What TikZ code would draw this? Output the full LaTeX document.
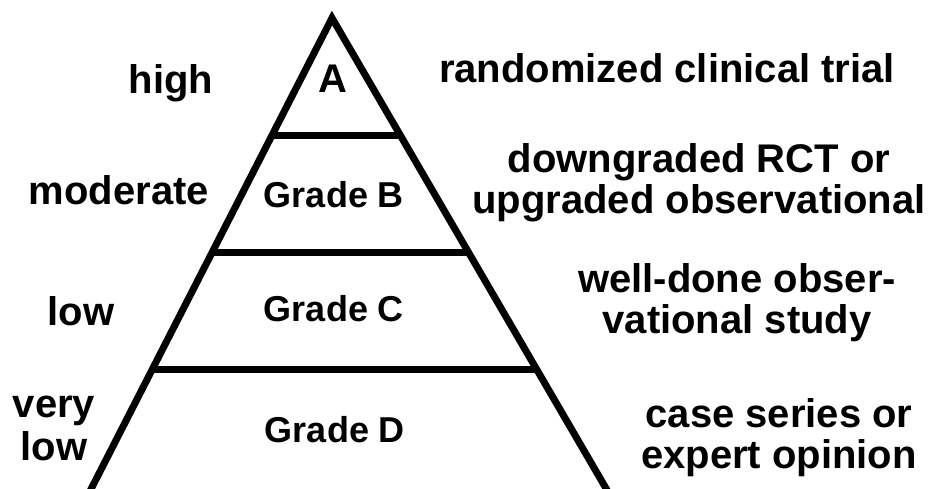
\documentclass[tikz,border=0pt]{standalone}
\usepackage{fontspec}
\setmainfont{Liberation Sans}
\usetikzlibrary{calc}
\begin{document}
\begin{tikzpicture}[x=1pt,y=-1pt,
  side/.style={font=\fontsize{40}{41}\selectfont\bfseries,align=center,anchor=base,inner sep=0pt},
  grade/.style={font=\fontsize{36}{38}\selectfont\bfseries,anchor=base,inner sep=0pt},
  edge/.style={line width=7pt}]
\useasboundingbox (0,0) rectangle (928,488);
\clip (0,0) rectangle (928,488);
%\draw[step=50,gray,very thin] (0,0) grid (928,488);
\coordinate (top) at (332,18);
\coordinate (bl) at (89.3,492.5);
\coordinate (br) at (608.4,492.5);
\draw[edge] (top) -- (bl) -- (br) -- cycle;
\draw[edge] ($(top)!0.2466!(bl)$) coordinate (l1) -- ($(top)!0.2466!(br)$) coordinate (r1);
\draw[edge] ($(top)!0.4932!(bl)$) coordinate (l2) -- ($(top)!0.4932!(br)$) coordinate (r2);
\draw[edge] ($(top)!0.7418!(bl)$) coordinate (l3) -- ($(top)!0.7418!(br)$) coordinate (r3);
% grades inside
\node[grade,font=\fontsize{40}{42}\selectfont\bfseries] (gA) at (333,92) {A};
\node[grade] (gB) at (334,207) {Grade B};
\node[grade] (gC) at (334,321) {Grade C};
\node[grade] (gD) at (335,442) {Grade D};
% quality on the left
\node[side] (high) at (171,93) {high};
\node[side] (moderate) at (119,204) {moderate};
\node[side] (low) at (81,325) {low};
\node[side,font=\fontsize{40}{43}\selectfont\bfseries] (verylow) at (54,460) {very\\low};
% evidence on the right
\node[side] (rct) at (667,82) {randomized clinical trial};
\node[side] (downup) at (699,213) {downgraded RCT or\\upgraded observational};
\node[side] (obs) at (737,333) {well-done obser-\\vational study};
\node[side] (cases) at (779,468) {case series or\\expert opinion};
\end{tikzpicture}
\end{document}
